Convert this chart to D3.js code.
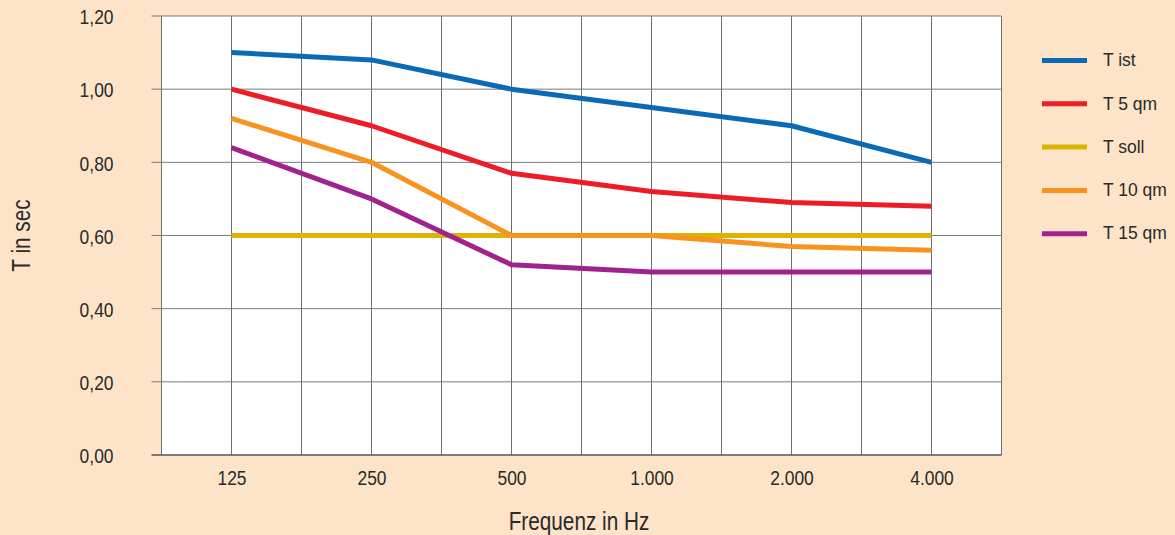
<!DOCTYPE html>
<html>
  <head>
    <script src="https://d3js.org/d3.v7.min.js" charset="utf-8"></script>
    <meta charset="UTF-8">
    <title>Nachhallzeit</title>
    <style>
      body { margin: 0; background: #fde4c9; }
      text { font-family: "Liberation Sans", Arial, sans-serif; fill: #2a2a2a; }
    </style>
  </head>
  <body>
    <svg class="chart"></svg>
    <script type="text/javascript">

     var frequencies = ["125", "250", "500", "1.000", "2.000", "4.000"];
     var yTicks = [0, 0.2, 0.4, 0.6, 0.8, 1.0, 1.2];

     var tIst    = [1.10, 1.08, 1.00, 0.95, 0.90, 0.80];
     var t5qm    = [1.00, 0.90, 0.77, 0.72, 0.69, 0.68];
     var tSoll   = [0.60, 0.60, 0.60, 0.60, 0.60, 0.60];
     var t10qm   = [0.92, 0.80, 0.60, 0.60, 0.57, 0.56];
     var t15qm   = [0.84, 0.70, 0.52, 0.50, 0.50, 0.50];

     var seriesNames  = ["T ist", "T 5 qm", "T soll", "T 10 qm", "T 15 qm"];
     var seriesValues = [tIst, t5qm, tSoll, t10qm, t15qm];
     var seriesColors = ["#0a6ab6", "#ee1d25", "#ddb202", "#f7931e", "#a0228d"];

     var width = 1175,
         height = 535,
         plotLeft = 161.5,
         plotRight = 1001.5,
         plotTop = 16,
         plotBottom = 455,
         squeeze = "scale(0.83,1)";   // condensed look

     var chart = d3.select(".chart")
                   .attr("width", width)
                   .attr("height", height);

     chart.append("rect")
          .attr("width", width).attr("height", height)
          .attr("fill", "#fde4c9");

     chart.append("rect")
          .attr("x", plotLeft).attr("y", plotTop)
          .attr("width", plotRight - plotLeft).attr("height", plotBottom - plotTop)
          .attr("fill", "#fff");

     var xScale = d3.scalePoint()
                    .domain(frequencies)
                    .range([plotLeft, plotRight])
                    .padding(0.5);

     var yScale = d3.scaleLinear()
                    .domain([0, 1.2])
                    .range([plotBottom, plotTop]);

     // vertical grid: at each category and half way between
     var step = xScale.step();
     var vLines = [plotLeft];
     frequencies.forEach(function(f) {
         vLines.push(xScale(f));
         vLines.push(xScale(f) + step / 2);
     });

     chart.append("g").selectAll("line")
          .data(vLines)
          .enter().append("line")
          .attr("x1", function(d) { return d; })
          .attr("x2", function(d) { return d; })
          .attr("y1", plotTop).attr("y2", plotBottom)
          .attr("stroke", "#6f6f6f")
          .attr("stroke-width", 1);

     chart.append("g").selectAll("line")
          .data(yTicks)
          .enter().append("line")
          .attr("x1", plotLeft - 10).attr("x2", plotRight)
          .attr("y1", function(d) { return yScale(d); })
          .attr("y2", function(d) { return yScale(d); })
          .attr("stroke", function(d) { return d === 0 ? "#555" : "#7a7a7a"; })
          .attr("stroke-width", function(d) { return d === 0 ? 1.3 : 1; });

     var yAxis = d3.axisLeft(yScale)
                   .tickValues(yTicks)
                   .tickSize(0)
                   .tickPadding(0)
                   .tickFormat(function(d) { return d3.format(".2f")(d).replace(".", ","); });

     var yg = chart.append("g")
                   .attr("transform", "translate(" + (plotLeft - 48) + ",1)")
                   .call(yAxis);
     yg.select(".domain").remove();
     yg.selectAll("text")
       .attr("font-size", 21)
       .attr("font-family", null)
       .attr("fill", null)
       .attr("transform", squeeze);

     var xAxis = d3.axisBottom(xScale).tickSize(0).tickPadding(0);
     var xg = chart.append("g")
                   .attr("transform", "translate(0," + (plotBottom + 15) + ")")
                   .call(xAxis);
     xg.select(".domain").remove();
     xg.selectAll("text")
       .attr("font-size", 21)
       .attr("font-family", null)
       .attr("fill", null)
       .attr("transform", squeeze);

     chart.append("text")
          .attr("transform", "translate(30," + ((plotTop + plotBottom) / 2) + ") rotate(-90) " + squeeze)
          .attr("text-anchor", "middle")
          .attr("font-size", 25)
          .text("T in sec");

     chart.append("text")
          .attr("transform", "translate(579,530) " + squeeze)
          .attr("text-anchor", "middle")
          .attr("font-size", 25)
          .text("Frequenz in Hz");

     var line = d3.line()
                  .x(function(d, i) { return xScale(frequencies[i]); })
                  .y(function(d) { return yScale(d); });

     chart.append("g").selectAll("path")
          .data(seriesValues)
          .enter().append("path")
          .attr("d", line)
          .attr("fill", "none")
          .attr("stroke", function(d, i) { return seriesColors[i]; })
          .attr("stroke-width", 5)
          .attr("stroke-linejoin", "round");

     var legend = chart.append("g")
                       .selectAll("g")
                       .data(seriesNames)
                       .enter().append("g")
                       .attr("transform", function(d, i) { return "translate(1042," + (60.5 + i * 43.3) + ")"; });

     legend.append("line")
           .attr("x1", 0).attr("x2", 45)
           .attr("stroke", function(d, i) { return seriesColors[i]; })
           .attr("stroke-width", 5);

     legend.append("text")
           .attr("x", 61)
           .attr("dy", "0.33em")
           .attr("font-size", 17.5)
           .text(function(d) { return d; });

    </script>
  </body>
</html>
